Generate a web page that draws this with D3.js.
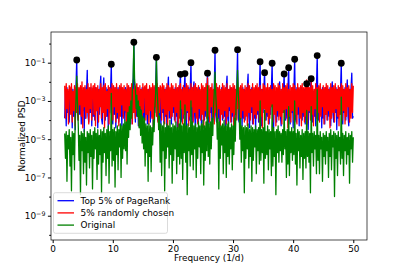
<!DOCTYPE html>
<html>
<head>
<meta charset="utf-8">
<script src="https://cdn.jsdelivr.net/npm/d3@7"></script>
<style>
  body { margin: 0; background: #fff; }
  svg text { font-family: "DejaVu Sans", sans-serif; }
</style>
</head>
<body>
<script>
//============================================================
// Data. PSD values kept as log10 exponents.
var freqStart = 2, freqStep = 0.125, freqCount = 385;
var freqs = d3.range(freqCount).map(function (i) { return freqStart + freqStep * i; });

// Top 5% of PageRank (blue)
var pagerankLog = [
  -3.9,-2.4,-4.3,-2.3,-3.6,-2.5,-4.1,-2.6,-3.4,-2.3,-4.4,-2.4,-3.8,-2.5,-4.5,-2.3,
  -0.86,-3.5,-4.0,-2.4,-3.7,-2.3,-4.2,-2.5,-3.5,-2.4,-4.6,-2.3,-3.9,-2.6,-1.4,-3.8,
  -4.1,-2.4,-3.6,-2.3,-4.3,-2.5,-3.8,-2.4,-4.0,-2.3,-3.5,-2.5,-4.4,-2.4,-3.7,-2.3,
  -1.7,-3.9,-4.2,-2.5,-1.8,-3.6,-4.0,-2.3,-3.8,-2.4,-4.5,-2.3,-3.6,-2.5,-1.08,-3.9,
  -4.2,-2.4,-3.7,-2.3,-4.4,-2.5,-3.9,-2.3,-4.1,-2.4,-3.5,-2.3,-4.3,-2.5,-3.8,-2.4,
  -4.0,-2.3,-3.6,-2.4,-4.5,-2.5,-3.9,-2.3,-4.2,-2.4,-3.7,-2.6,0.07,-2.8,-4.1,-2.4,
  -3.8,-2.3,-4.3,-2.5,-3.6,-2.4,-4.0,-2.3,-3.9,-2.4,-4.6,-2.3,-3.7,-2.5,-4.2,-2.4,
  -3.5,-2.3,-4.1,-2.4,-3.8,-2.5,-4.4,-2.3,-3.6,-2.4,-0.72,-3.7,-4.0,-2.3,-3.9,-2.4,
  -4.3,-2.5,-3.6,-2.3,-4.1,-2.4,-3.8,-2.3,-4.5,-2.4,-1.75,-3.9,-3.7,-2.5,-4.2,-2.3,
  -3.6,-2.4,-4.0,-2.3,-3.8,-2.5,-4.4,-2.3,-3.5,-2.4,-1.61,-3.8,-4.1,-2.3,-3.9,-2.4,
  -1.57,-3.7,-4.3,-2.4,-3.6,-2.3,-4.0,-2.5,-1.0,-3.9,-4.2,-2.4,-2.0,-3.8,-4.5,-2.3,
  -3.7,-2.4,-4.1,-2.3,-3.9,-2.5,-4.4,-2.3,-3.6,-2.4,-4.0,-2.3,-3.8,-2.5,-1.55,-3.9,
  -4.2,-2.4,-3.6,-2.3,-4.5,-2.5,-3.8,-2.4,-0.35,-3.7,-4.1,-2.3,-3.9,-2.4,-4.3,-2.5,
  -3.6,-2.3,-4.0,-2.4,-3.8,-2.5,-4.4,-2.3,-1.7,-3.9,-4.2,-2.4,-3.5,-2.3,-4.1,-2.5,
  -3.8,-2.3,-4.5,-2.4,-3.7,-2.3,-0.32,-3.9,-4.1,-2.5,-3.6,-2.4,-4.3,-2.3,-3.9,-2.4,
  -4.0,-2.5,-3.7,-2.3,-1.6,-3.8,-4.4,-2.4,-3.6,-2.3,-4.2,-2.5,-3.9,-2.4,-4.6,-2.3,
  -3.7,-2.4,-4.1,-2.5,-0.95,-3.8,-4.3,-2.4,-3.6,-2.3,-1.52,-3.9,-4.0,-2.4,-3.8,-2.5,
  -4.2,-2.3,-3.7,-2.4,-1.03,-3.9,-4.4,-2.3,-3.6,-2.5,-4.1,-2.4,-3.8,-2.3,-2.0,-3.7,
  -4.3,-2.4,-3.6,-2.5,-1.59,-3.8,-4.0,-2.3,-3.9,-2.4,-1.26,-3.7,-4.2,-2.5,-3.6,-2.3,
  -4.4,-2.4,-0.82,-3.9,-4.1,-2.3,-3.7,-2.5,-4.3,-2.4,-3.6,-2.3,-4.0,-2.5,-3.8,-2.4,
  -4.2,-2.3,-2.1,-3.7,-4.5,-2.4,-3.6,-2.3,-1.84,-3.9,-4.1,-2.5,-3.8,-2.4,-4.3,-2.3,
  -0.63,-3.8,-4.0,-2.4,-3.6,-2.5,-4.4,-2.3,-3.9,-2.4,-4.2,-2.3,-3.7,-2.5,-4.0,-2.4,
  -3.8,-2.3,-4.3,-2.4,-2.0,-3.7,-4.1,-2.5,-3.6,-2.3,-4.5,-2.4,-3.9,-2.3,-3.7,-2.5,
  -1.03,-3.9,-4.2,-2.4,-3.6,-2.3,-4.0,-2.5,-1.9,-3.8,-4.3,-2.4,-3.7,-2.3,-1.55,-3.9,
  -3.8
];

// 5% randomly chosen (red)
var randomLog = [
  -2.2,-3.9,-2.1,-3.4,-2.4,-4.2,-2.2,-2.3,-3.7,-2.1,-4.1,-2.5,-3.5,-2.2,-4.3,-2.3,
  -3.6,-2.1,-4.0,-2.3,-3.2,-2.2,-3.8,-2.0,-4.4,-2.3,-3.3,-2.2,-3.9,-2.4,-3.6,-2.1,
  -4.2,-2.3,-3.4,-2.1,-4.0,-2.4,-2.2,-3.7,-2.1,-4.3,-2.3,-3.5,-2.2,-4.1,-2.4,-3.3,
  -2.1,-3.9,-2.3,-3.6,-2.2,-4.4,-2.1,-3.8,-2.5,-3.4,-2.2,-4.2,-2.3,-2.4,-3.7,-2.1,
  -4.0,-2.2,-3.3,-2.3,-4.1,-2.1,-3.6,-2.4,-4.3,-2.2,-3.8,-2.1,-3.2,-2.3,-3.9,-2.2,
  -3.5,-2.4,-4.4,-2.1,-3.7,-2.2,-4.0,-2.3,-3.3,-2.1,-4.2,-2.4,-3.6,-2.2,-3.9,-2.3,
  -2.1,-3.8,-2.3,-4.3,-2.2,-3.4,-2.4,-4.1,-2.1,-3.6,-2.3,-2.2,-4.0,-2.1,-3.7,-2.4,
  -4.2,-2.2,-3.5,-2.3,-3.9,-2.1,-4.4,-2.2,-3.3,-2.4,-3.8,-2.1,-4.1,-2.3,-3.6,-2.2,
  -2.3,-4.0,-2.1,-3.4,-2.2,-4.2,-2.4,-3.7,-2.1,-4.3,-2.2,-3.5,-2.3,-3.9,-2.1,-3.8,
  -2.2,-3.3,-2.4,-4.1,-2.1,-3.6,-2.3,-4.4,-2.2,-3.9,-2.1,-3.4,-2.4,-4.2,-2.2,-3.7,
  -2.3,-4.0,-2.1,-3.5,-2.2,-4.3,-2.4,-3.8,-2.1,-3.3,-2.3,-4.1,-2.2,-3.6,-2.1,-3.9,
  -2.3,-4.2,-2.2,-3.4,-2.4,-4.0,-2.1,-3.7,-2.2,-4.4,-2.3,-3.5,-2.1,-3.9,-1.8,-3.8,
  -2.2,-4.1,-2.3,-3.3,-2.1,-3.8,-2.4,-4.2,-2.2,-3.6,-2.1,-4.0,-2.3,-3.4,-2.2,-4.3,
  -2.4,-3.7,-2.1,-3.9,-2.2,-3.5,-2.3,-4.2,-2.1,-3.8,-2.4,-3.3,-2.2,-4.1,-2.3,-3.6,
  -2.1,-4.4,-2.2,-3.7,-2.4,-4.0,-2.1,-3.4,-2.3,-4.2,-2.2,-3.9,-2.1,-3.5,-2.4,-4.1,
  -2.2,-3.8,-2.3,-4.3,-2.1,-3.6,-2.2,-4.0,-2.4,-3.3,-2.1,-4.2,-2.3,-3.7,-2.2,-3.9,
  -2.1,-3.5,-2.3,-4.1,-2.2,-3.8,-2.4,-4.4,-2.1,-3.4,-2.2,-4.0,-2.3,-3.6,-2.1,-4.2,
  -2.3,-3.9,-2.2,-3.3,-2.4,-4.1,-2.1,-3.7,-2.2,-4.3,-2.3,-3.5,-2.1,-4.0,-2.2,-3.8,
  -2.4,-4.2,-2.1,-3.6,-2.3,-3.9,-2.2,-3.4,-2.1,-4.4,-2.4,-3.8,-2.2,-4.1,-2.3,-3.5,
  -2.1,-4.0,-2.2,-3.7,-2.4,-4.2,-2.1,-3.3,-2.3,-3.9,-2.2,-4.3,-2.1,-3.6,-2.3,-4.1,
  -2.2,-3.8,-1.9,-4.2,-2.1,-3.5,-2.3,-4.0,-2.0,-3.7,-2.2,-4.3,-2.4,-3.4,-2.1,-3.9,
  -2.3,-3.6,-2.2,-4.1,-2.1,-3.8,-2.4,-3.3,-2.2,-4.2,-2.3,-3.7,-2.1,-4.0,-2.2,-3.5,
  -2.4,-4.4,-2.1,-3.9,-2.3,-3.6,-2.2,-4.1,-2.1,-3.4,-2.4,-3.8,-2.2,-4.3,-2.3,-3.7,
  -2.1,-4.0,-2.2,-3.5,-2.4,-4.2,-2.1,-3.8,-2.3,-3.3,-2.2,-4.1,-2.4,-3.9,-2.1,-3.6,
  -2.2
];

// Original (green)
var originalLog = [
  -4.7,-6.0,-4.6,-7.2,-4.8,-5.5,-4.5,-6.4,-4.9,-7.7,-4.6,-5.8,-4.7,-6.6,-3.9,-3.0,
  -1.7,-3.1,-4.2,-6.1,-4.8,-7.9,-4.6,-5.6,-4.7,-6.8,-4.5,-6.2,-4.9,-7.4,-4.6,-5.7,
  -4.7,-6.5,-4.5,-5.9,-4.8,-7.6,-4.6,-6.0,-4.4,-5.5,-4.7,-7.1,-4.5,-6.3,-4.8,-5.8,
  -4.5,-7.8,-4.6,-6.2,-4.4,-5.7,-4.7,-6.9,-4.5,-6.0,-4.3,-7.3,-4.6,-5.6,-2.6,-6.4,
  -4.5,-6.1,-4.4,-7.5,-4.6,-5.8,-4.3,-6.6,-4.5,-5.4,-4.2,-7.0,-4.3,-6.0,-4.2,-5.5,
  -4.0,-5.6,-4.1,-6.3,-3.6,-4.9,-3.3,-4.5,-3.0,-3.9,-2.4,-1.8,0.07,-1.9,-2.3,-3.4,
  -2.7,-3.8,-3.0,-4.4,-3.3,-4.8,-3.5,-5.2,-3.8,-5.5,-3.9,-6.4,-4.2,-5.7,-4.3,-7.2,
  -4.2,-5.9,-4.3,-6.7,-4.4,-5.3,-4.0,-4.6,-3.3,-2.6,-0.72,-2.5,-3.2,-4.5,-3.8,-6.2,
  -4.2,-6.9,-4.3,-5.6,-4.1,-7.7,-4.4,-6.0,-4.2,-5.4,-4.3,-6.5,-4.0,-5.8,-4.4,-7.3,
  -4.2,-6.1,-4.3,-5.5,-4.1,-6.8,-4.4,-5.9,-4.2,-6.3,-3.0,-6.0,-4.3,-7.1,-4.2,-5.7,
  -3.2,-6.2,-4.3,-7.9,-4.2,-5.6,-4.4,-6.4,-3.0,-5.8,-4.1,-6.6,-4.3,-5.5,-4.2,-7.0,
  -4.4,-6.0,-4.1,-5.4,-4.3,-6.8,-4.2,-5.7,-4.0,-7.4,-4.3,-6.1,-4.1,-5.6,-2.2,-5.9,
  -4.2,-6.3,-4.1,-5.5,-3.9,-4.8,-3.3,-2.6,-1.5,-2.7,-3.4,-5.0,-3.9,-7.6,-4.1,-6.0,
  -4.3,-5.3,-4.2,-6.8,-4.0,-5.7,-4.3,-7.0,-4.2,-5.9,-4.1,-6.3,-4.4,-5.5,-4.2,-6.6,
  -4.3,-5.8,-3.9,-5.1,-3.2,-2.5,-1.4,-2.6,-3.3,-5.0,-3.9,-6.2,-4.3,-5.6,-4.4,-7.8,
  -4.3,-6.0,-4.4,-5.5,-4.2,-6.5,-4.5,-5.9,-4.3,-7.2,-4.4,-6.1,-4.5,-5.4,-4.3,-6.8,
  -4.5,-5.6,-4.4,-6.3,-3.0,-6.1,-4.5,-5.7,-4.4,-7.3,-3.5,-6.0,-4.6,-5.8,-4.3,-6.6,
  -4.5,-5.5,-4.6,-6.9,-3.2,-6.4,-4.4,-5.9,-4.6,-7.9,-4.5,-5.7,-4.3,-6.2,-4.6,-5.6,
  -4.7,-6.2,-4.5,-5.8,-3.5,-5.5,-4.6,-7.0,-4.5,-6.3,-3.3,-6.9,-4.6,-5.7,-4.4,-6.1,
  -4.6,-5.8,-3.0,-6.3,-4.7,-7.4,-4.5,-5.6,-4.6,-6.5,-4.8,-5.9,-4.5,-7.1,-4.7,-6.0,
  -4.6,-6.5,-3.5,-5.9,-4.6,-6.2,-4.7,-7.8,-3.3,-5.7,-4.7,-6.4,-4.6,-5.5,-4.8,-6.8,
  -2.4,-6.1,-4.8,-6.8,-4.6,-5.5,-4.9,-7.2,-4.7,-5.9,-4.8,-6.3,-4.6,-5.6,-4.9,-7.0,
  -4.7,-5.9,-4.5,-6.6,-4.8,-5.4,-4.6,-8.0,-4.7,-6.0,-4.8,-6.9,-4.6,-5.6,-4.9,-6.3,
  -2.8,-6.0,-4.7,-6.9,-4.8,-5.6,-4.6,-6.3,-4.9,-5.8,-4.7,-7.3,-4.8,-5.5,-4.6,-6.2,
  -4.9
];

// Detected peaks (black dots)
var peakFreq = [4.0, 9.75, 13.5, 17.25, 21.25, 22.0, 23.0, 25.75, 27.0, 30.75,
                34.5, 35.25, 36.5, 38.5, 39.25, 40.25, 42.25, 43.0, 44.0, 48.0];
var peakLog = [-0.86, -1.08, 0.07, -0.72, -1.61, -1.57, -1.0, -1.55, -0.35, -0.32,
               -0.95, -1.52, -1.03, -1.59, -1.26, -0.82, -2.1, -1.84, -0.63, -1.03];

var seriesNames = ["Top 5% of PageRank", "5% randomly chosen", "Original"];
var seriesColors = ["#0000ff", "#ff0000", "#008000"];
var xTicks = [0, 10, 20, 30, 40, 50];
var yTickExp = [-1, -3, -5, -7, -9];
var yMinorExp = [0, -2, -4, -6, -8, -10];

//============================================================
// Set up SVG
var W = 409, H = 273;
var plot = { left: 51, right: 367, top: 32, bottom: 240 };
var fontSize = 8.9;

var svg = d3.select("body")
  .append("svg")
  .attr("width", W)
  .attr("height", H);

var x = d3.scaleLinear().domain([-0.28, 52.28]).range([plot.left, plot.right]);
var y = d3.scaleLog().domain([Math.pow(10, -10.27), Math.pow(10, 0.605)]).range([plot.bottom, plot.top]);

svg.append("clipPath").attr("id", "clip")
  .append("rect")
  .attr("x", plot.left).attr("y", plot.top)
  .attr("width", plot.right - plot.left).attr("height", plot.bottom - plot.top);

//============================================================
// Lines
var line = d3.line()
  .x(function (d) { return x(d[0]); })
  .y(function (d) { return y(Math.pow(10, d[1])); });

var allSeries = [pagerankLog, randomLog, originalLog];
var lines = svg.append("g").attr("clip-path", "url(#clip)");
allSeries.forEach(function (vals, k) {
  lines.append("path")
    .datum(vals.map(function (v, i) { return [freqs[i], v]; }))
    .attr("d", line)
    .attr("fill", "none")
    .attr("stroke", seriesColors[k])
    .attr("stroke-width", 1.3)
    .attr("stroke-linejoin", "round");
});

// peak markers
lines.selectAll("circle")
  .data(peakFreq)
  .enter()
  .append("circle")
  .attr("cx", function (d) { return x(d); })
  .attr("cy", function (d, i) { return y(Math.pow(10, peakLog[i])); })
  .attr("r", 3.4)
  .attr("fill", "#000");

//============================================================
// Axes
var xAxis = d3.axisBottom(x).tickValues(xTicks).tickSize(3.1).tickPadding(2.2).tickFormat(d3.format("d"));
var gx = svg.append("g").attr("transform", "translate(0," + plot.bottom + ")").call(xAxis);
gx.select(".domain").remove();
gx.selectAll("text").attr("font-size", fontSize).attr("font-family", "DejaVu Sans").attr("fill", "#000");

var yMinor = d3.axisLeft(y).tickValues(yMinorExp.map(function (e) { return Math.pow(10, e); }))
  .tickSize(1.8).tickFormat("");
var gym = svg.append("g").attr("transform", "translate(" + plot.left + ",0)").call(yMinor);
gym.select(".domain").remove();

var yAxis = d3.axisLeft(y).tickValues(yTickExp.map(function (e) { return Math.pow(10, e); }))
  .tickSize(3.1).tickPadding(2.2).tickFormat("");
var gy = svg.append("g").attr("transform", "translate(" + plot.left + ",0)").call(yAxis);
gy.select(".domain").remove();
gy.selectAll(".tick").each(function (d) {
  var t = d3.select(this).append("text")
    .attr("x", -5.6).attr("dy", "0.32em")
    .attr("text-anchor", "end")
    .attr("font-size", fontSize)
    .attr("fill", "#000");
  t.append("tspan").text("10");
  t.append("tspan").attr("dy", "-0.45em").attr("font-size", 6.3)
    .text("\u2212" + Math.round(-Math.log10(d)));
});

svg.append("rect")
  .attr("x", plot.left).attr("y", plot.top)
  .attr("width", plot.right - plot.left).attr("height", plot.bottom - plot.top)
  .attr("fill", "none").attr("stroke", "#000").attr("stroke-width", 0.7);

svg.append("text")
  .attr("x", (plot.left + plot.right) / 2).attr("y", 261)
  .attr("text-anchor", "middle").attr("font-size", fontSize)
  .text("Frequency (1/d)");

svg.append("text")
  .attr("transform", "translate(25," + (plot.top + plot.bottom) / 2 + ") rotate(-90)")
  .attr("text-anchor", "middle").attr("font-size", fontSize)
  .text("Normalized PSD");

//============================================================
// Legend
var legend = svg.append("g").attr("transform", "translate(53.5,192.7)");
legend.append("rect")
  .attr("width", 114).attr("height", 40.6).attr("rx", 2)
  .attr("fill", "#fff").attr("fill-opacity", 0.8)
  .attr("stroke", "#ccc").attr("stroke-width", 0.7);
seriesNames.forEach(function (name, k) {
  var ry = 8 + k * 12.2;
  legend.append("line")
    .attr("x1", 4).attr("x2", 20.5).attr("y1", ry).attr("y2", ry)
    .attr("stroke", seriesColors[k]).attr("stroke-width", 1.3);
  legend.append("text")
    .attr("x", 27).attr("y", ry).attr("dy", "0.35em")
    .attr("font-size", fontSize)
    .text(name);
});
</script>
</body>
</html>
